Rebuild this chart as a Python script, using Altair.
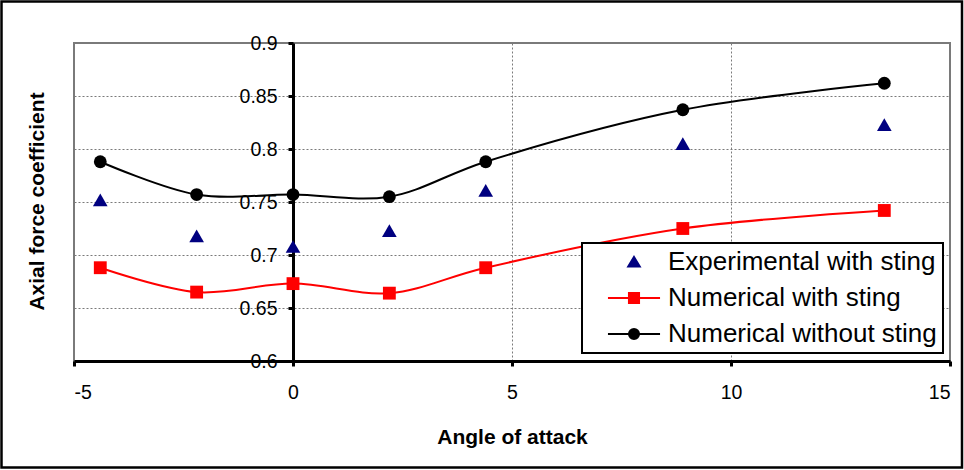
import altair as alt
import pandas as pd

# Measured axial force coefficient versus angle of attack (degrees)
angles = [-4.4, -2.2, 0.0, 2.2, 4.4, 8.9, 13.5]
experimental_with_sting = [0.752, 0.718, 0.708, 0.723, 0.761, 0.805, 0.823]
numerical_with_sting = [0.688, 0.665, 0.673, 0.664, 0.688, 0.725, 0.742]
numerical_without_sting = [0.788, 0.757, 0.757, 0.755, 0.788, 0.837, 0.862]

series_names = ["Experimental with sting", "Numerical with sting", "Numerical without sting"]
series_values = [experimental_with_sting, numerical_with_sting, numerical_without_sting]
series_colors = ["#000080", "#FF0000", "#000000"]
point_shapes = ["triangle-up", "square", "circle"]
point_sizes = [215, 165, 165]
line_series = ["Numerical with sting", "Numerical without sting"]

# legend glyphs: marker alone, or a short line segment through the marker
legend_glyphs = [
    "M0,-0.42L0.48,0.38L-0.48,0.38Z",
    "M-2.17,0H2.17M-0.42,-0.42H0.42V0.42H-0.42Z",
    "M-2.17,0H2.17M0.42,0A0.42,0.42,0,1,1,-0.42,0A0.42,0.42,0,1,1,0.42,0Z",
]

x_ticks = [-5, 0, 5, 10, 15]
y_ticks = [0.6, 0.65, 0.7, 0.75, 0.8, 0.85, 0.9]

rows = []
for name, vals in zip(series_names, series_values):
    for a, v in zip(angles, vals):
        rows.append({"angle": a, "coef": v, "series": name})
df = pd.DataFrame(rows)

FONT = "Liberation Sans"
W, H = 876, 318
GRID = "#7a7a7a"

x_enc = alt.X(
    "angle:Q",
    scale=alt.Scale(domain=[-5, 15], nice=False, zero=False),
    axis=alt.Axis(
        values=x_ticks, labelExpr="'' + datum.value", title="Angle of attack",
        grid=True, gridColor=GRID, gridDash=[2, 2], gridWidth=1,
        domainColor="black", domainWidth=3,
        tickColor="black", tickWidth=3, tickSize=5,
        labelFont=FONT, labelFontSize=19.5, labelColor="black", labelPadding=17,
        titleFont=FONT, titleFontSize=21, titleFontWeight="bold", titleColor="black",
        titleY=76, titleBaseline="middle",
    ),
)
y_enc = alt.Y(
    "coef:Q",
    scale=alt.Scale(domain=[0.6, 0.9], nice=False, zero=False),
    axis=alt.Axis(
        values=y_ticks, format=".2~f", offset=-219,
        title="Axial force coefficient",
        titleX=-256, titleY=158, titleAngle=270, titleAlign="center", titleBaseline="middle",
        titleFont=FONT, titleFontSize=21, titleFontWeight="bold", titleColor="black",
        grid=True, gridColor=GRID, gridDash=[2, 2], gridWidth=1,
        domainColor="black", domainWidth=3,
        tickColor="black", tickWidth=3, tickSize=5,
        labelFont=FONT, labelFontSize=19.5, labelColor="black", labelPadding=11,
    ),
)
# plotted marks: colour scale takes its (alphabetical) domain from the data
color_enc = alt.Color("series:N", scale=alt.Scale(range=series_colors), legend=None)

base = alt.Chart(df)

frame = alt.Chart(alt.Data(values=[{"frame": 1}])).mark_rect(
    fill="transparent", stroke="black", strokeWidth=2.5
).encode(
    x=alt.value(-72.5), x2=alt.value(888), y=alt.value(-41.5), y2=alt.value(424.5)
)

lines = base.transform_filter(
    alt.FieldOneOfPredicate(field="series", oneOf=line_series)
).mark_line(interpolate="catmull-rom", strokeWidth=2).encode(
    x=x_enc, y=y_enc, color=color_enc
)

point_layers = []
for name, shp, sz in zip(series_names, point_shapes, point_sizes):
    point_layers.append(
        base.transform_filter(alt.datum.series == name)
        .mark_point(filled=True, opacity=1, shape=shp, size=sz)
        .encode(x=x_enc, y=y_enc, color=color_enc)
    )

legend_def = alt.Legend(
    title=None, orient="none", legendX=508, legendY=200,
    padding=6, strokeColor="black", fillColor="white",
    symbolSize=576, symbolStrokeWidth=2, symbolOpacity=1,
    symbolOffset=33, labelOffset=21,
    labelFont=FONT, labelFontSize=26, labelColor="black", labelLimit=500,
    labelExpr="datum.label + '\u00a0\u00a0\u00a0'",
    rowPadding=10,
)
legend_layer = base.mark_point(filled=True, opacity=0).encode(
    x=x_enc, y=y_enc,
    fill=alt.Fill("series:N", scale=alt.Scale(domain=series_names, range=series_colors), legend=legend_def),
    stroke=alt.Stroke("series:N", scale=alt.Scale(domain=series_names, range=series_colors), legend=legend_def),
    shape=alt.Shape("series:N", scale=alt.Scale(domain=series_names, range=legend_glyphs), legend=legend_def),
)

chart = alt.layer(frame, lines, *point_layers, legend_layer).properties(
    width=W, height=H,
    autosize=alt.AutoSizeParams(type="none"),
    padding={"left": 74, "top": 43, "right": 14, "bottom": 109},
    background="white",
).configure_view(
    stroke=GRID, strokeWidth=2
).configure_legend(strokeWidth=2)

chart.save("out.html", embed_options={"renderer": "svg", "actions": False})
